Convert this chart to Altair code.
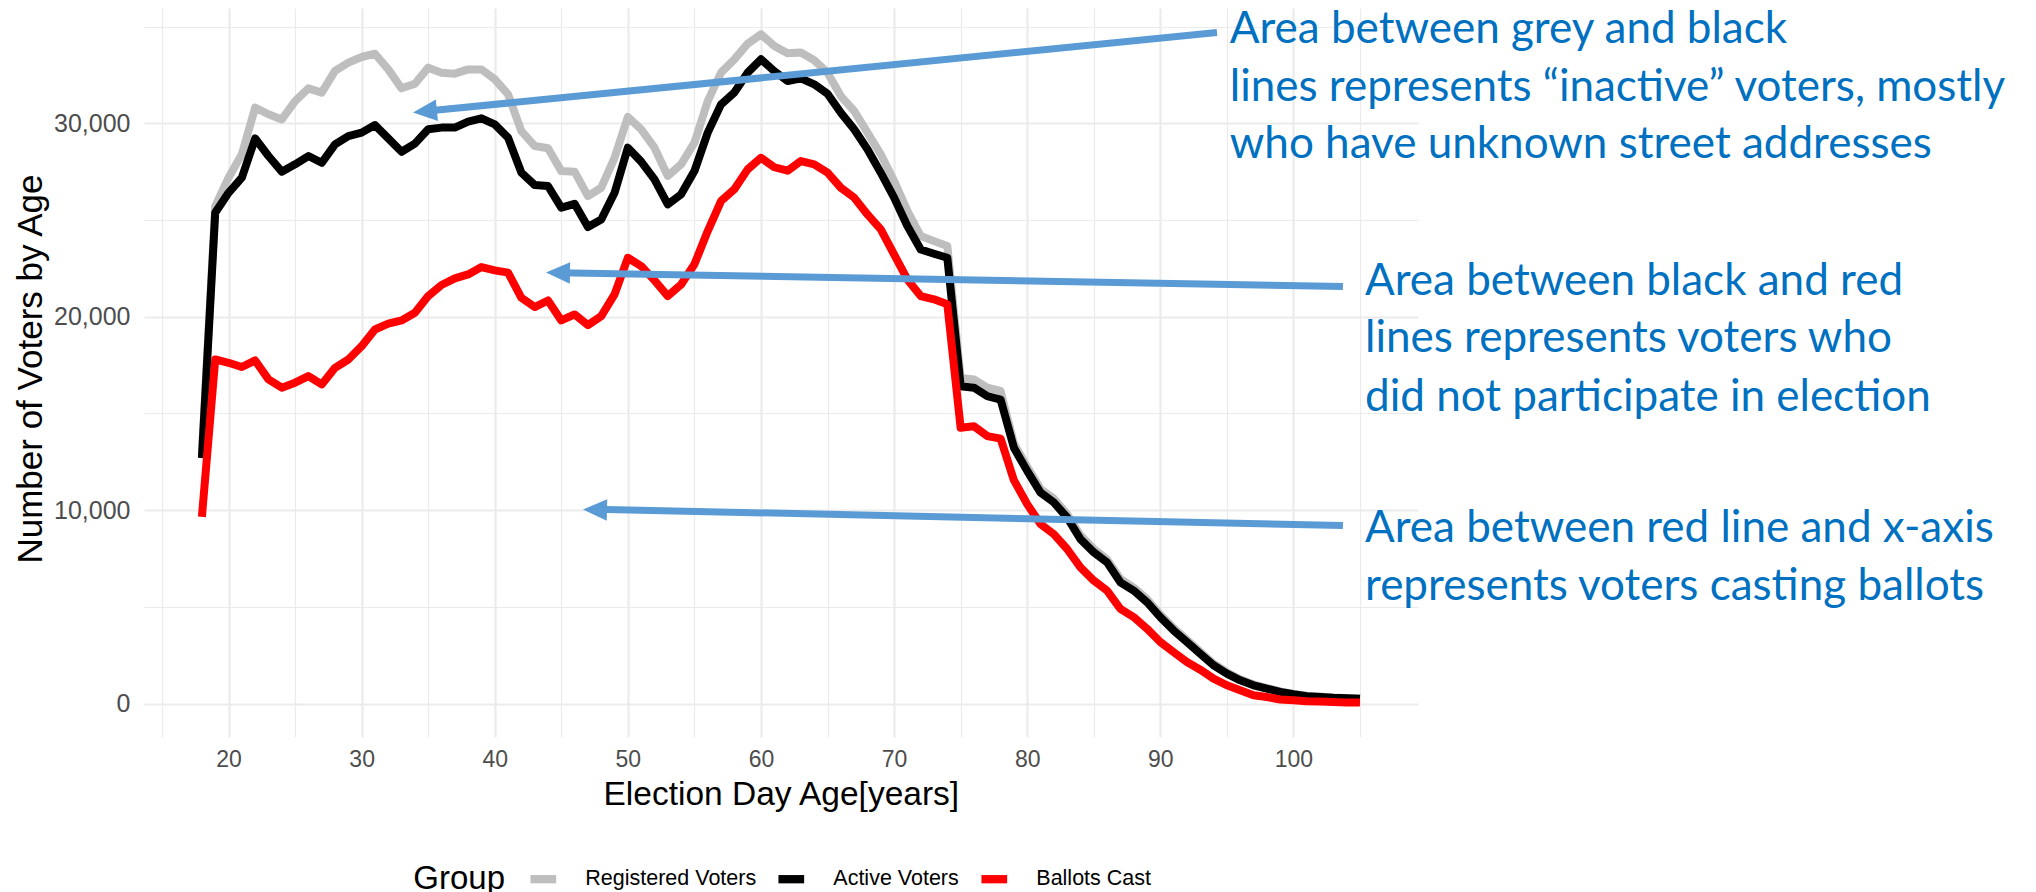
import altair as alt
import pandas as pd

# ---------------- data ----------------
ages = list(range(18, 106))

registered = [
    12900, 25720, 27190, 28400, 30810, 30470, 30200, 31150, 31810, 31590,
    32710, 33140, 33430, 33600, 32790, 31810, 32050, 32880, 32620, 32570,
    32790, 32790, 32280, 31500, 29600, 28830, 28710, 27530, 27500, 26240,
    26670, 28220, 30330, 29690, 28740, 27280, 27880, 29000, 31150, 32620,
    33310, 34120, 34600, 34000, 33620, 33660, 33260, 32620, 31410, 30640,
    29520, 28400, 27020, 25470, 24170, 23910, 23660, 16840, 16760, 16330,
    16160, 13450, 12250, 11100, 10600, 9800, 8700, 8000, 7450, 6450,
    6000, 5400, 4600, 3900, 3300, 2680, 2060, 1620, 1260, 990,
    800, 630, 500, 400, 360, 310, 290, 260,
]

active = [
    12700, 25380, 26410, 27190, 29220, 28310, 27500, 27880, 28310, 27960,
    28910, 29340, 29520, 29910, 29220, 28530, 28950, 29690, 29780, 29780,
    30090, 30260, 29950, 29260, 27450, 26810, 26760, 25640, 25840, 24640,
    25030, 26410, 28740, 28020, 27100, 25810, 26330, 27530, 29520, 30980,
    31590, 32620, 33310, 32700, 32190, 32330, 32020, 31530, 30550, 29690,
    28660, 27450, 26160, 24690, 23480, 23260, 23050, 16410, 16330, 15900,
    15720, 13230, 12030, 10910, 10400, 9620, 8500, 7820, 7300, 6270,
    5840, 5240, 4470, 3780, 3180, 2580, 1980, 1550, 1200, 945,
    770, 600, 480, 380, 340, 300, 280, 250,
]

ballots = [
    9650, 17790, 17620, 17400, 17740, 16760, 16330, 16590, 16930, 16500,
    17360, 17790, 18480, 19340, 19640, 19810, 20210, 21070, 21640, 21980,
    22190, 22570, 22400, 22280, 20980, 20500, 20840, 19810, 20120, 19570,
    20030, 21160, 23050, 22620, 21880, 21070, 21670, 22710, 24430, 25980,
    26590, 27620, 28220, 27730, 27550, 28050, 27880, 27450, 26670, 26160,
    25290, 24520, 23220, 21930, 21070, 20900, 20640, 14260, 14340, 13830,
    13700, 11550, 10310, 9280, 8760, 7990, 7040, 6360, 5840, 4900,
    4470, 3870, 3180, 2660, 2150, 1750, 1290, 945, 690, 430,
    340, 210, 170, 120, 100, 80, 60, 50,
]

groups = ["Registered Voters", "Active Voters", "Ballots Cast"]
group_colors = ["#BEBEBE", "#000000", "#FF0000"]

x_ticks = list(range(15, 106, 5))
y_ticks = list(range(0, 35001, 5000))

# annotation arrows (data coordinates)
arrow_tail_age = [94.26, 103.72, 103.72]
arrow_tail_voters = [34695, 21561, 9204]
arrow_back_age = [34.75, 44.75, 47.53]
arrow_back_voters = [30620, 22275, 10047]
arrow_tip_age = [33.86, 43.85, 46.63]
arrow_tip_voters = [30558, 22285, 10031]
arrow_angle = [354.3, 1.0, 1.2]

# annotation text lines (data coordinates)
note_lines = [
    "Area between grey and black",
    "lines represents \u201cinactive\u201d voters, mostly",
    "who have unknown street addresses",
    "Area between black and red",
    "lines represents voters who",
    "did not participate in election",
    "Area between red line and x-axis",
    "represents voters casting ballots",
]
note_age = [95.22, 95.22, 95.22, 105.38, 105.38, 105.38, 105.38, 105.38]
note_voters = [34142, 31179, 28232, 21148, 18164, 15150, 8340, 5362]

# ---------------- tables ----------------
rows = []
for g, vals in zip(groups, [registered, active, ballots]):
    for a, v in zip(ages, vals):
        rows.append({"age": a, "voters": v, "group": g})
df = pd.DataFrame(rows)

arrows = pd.DataFrame({
    "tail_age": arrow_tail_age, "tail_voters": arrow_tail_voters,
    "back_age": arrow_back_age, "back_voters": arrow_back_voters,
    "tip_age": arrow_tip_age, "tip_voters": arrow_tip_voters,
    "angle": arrow_angle,
})
notes = pd.DataFrame({"line": note_lines, "age": note_age, "voters": note_voters})

# ---------------- scales / axes ----------------
FONT = "Liberation Sans"
x_scale = alt.Scale(domain=[13.65, 109.36], nice=False, zero=False)
y_scale = alt.Scale(domain=[-1730, 35964], nice=False, zero=False)
color_scale = alt.Scale(domain=groups, range=group_colors)

x_axis = alt.Axis(
    title="Election Day Age[years]",
    values=x_ticks,
    labelExpr="(datum.value % 10 == 0 && datum.value >= 20 && datum.value <= 100) ? datum.value : ''",
    grid=True, gridColor="#EBEBEB",
    gridWidth={"condition": {"test": "datum.value % 10 == 0", "value": 2.2}, "value": 1.2},
    domain=False, ticks=False,
    labelFont=FONT, labelFontSize=23, labelColor="#4D4D4D", labelPadding=11,
    labelOverlap=False, labelFlush=False,
    titleFont=FONT, titleFontSize=33.5, titleColor="#000000", titleFontWeight="normal",
    titleX=636.8, titleY=67, titleAlign="center", titleBaseline="alphabetic",
)
y_axis = alt.Axis(
    title="Number of Voters by Age",
    values=y_ticks,
    labelExpr="datum.value % 10000 == 0 ? format(datum.value, ',') : ''",
    grid=True, gridColor="#EBEBEB",
    gridWidth={"condition": {"test": "datum.value % 10000 == 0", "value": 2.2}, "value": 1.2},
    domain=False, ticks=False,
    labelFont=FONT, labelFontSize=25, labelColor="#4D4D4D", labelPadding=14,
    labelOffset=0, labelOverlap=False, labelFlush=False,
    titleFont=FONT, titleFontSize=35, titleColor="#000000", titleFontWeight="normal",
    titleX=-102.3, titleY=360.5, titleAngle=270, titleAlign="center", titleBaseline="alphabetic",
)
legend = alt.Legend(
    title="Group", orient="none", legendX=269.3, legendY=854, direction="horizontal",
    padding=0, titleOrient="left", titleFont=FONT, titleFontSize=33,
    titleFontWeight="normal", titleColor="#000000", titlePadding=21,
    symbolType="stroke", symbolSize=660, symbolStrokeWidth=8.3,
    labelFont=FONT, labelFontSize=21.5, labelColor="#000000", labelLimit=400,
    labelOffset=25, columnPadding=5,
)

x_enc = alt.X("age:Q", scale=x_scale, axis=x_axis)
y_enc = alt.Y("voters:Q", scale=y_scale, axis=y_axis)
color_enc = alt.Color("group:N", scale=color_scale, legend=legend)

line_layers = [
    alt.Chart(df)
    .transform_filter(alt.FieldEqualPredicate(field="group", equal=g))
    .mark_line(strokeWidth=8, strokeJoin="round", strokeCap="butt")
    .encode(x=x_enc, y=y_enc, color=color_enc)
    for g in groups
]

arrow_lines = alt.Chart(arrows).mark_rule(color="#5B9BD5", strokeWidth=7, strokeCap="butt").encode(
    x=alt.X("tail_age:Q", scale=x_scale, axis=x_axis),
    x2="back_age:Q",
    y=alt.Y("tail_voters:Q", scale=y_scale, axis=y_axis),
    y2="back_voters:Q",
)
arrow_heads = alt.Chart(arrows).mark_point(
    shape="M0,0L2,-0.9L2,0.9Z", size=576, filled=True, color="#5B9BD5",
    opacity=1, strokeWidth=0,
).encode(
    x=alt.X("tip_age:Q", scale=x_scale, axis=x_axis),
    y=alt.Y("tip_voters:Q", scale=y_scale, axis=y_axis),
    angle=alt.Angle("angle:Q", scale=None),
)
note_text = alt.Chart(notes).mark_text(
    align="left", baseline="alphabetic", font="Lato", fontSize=44, color="#0070C0",
).encode(
    x=alt.X("age:Q", scale=x_scale, axis=x_axis),
    y=alt.Y("voters:Q", scale=y_scale, axis=y_axis),
    text="line:N",
)

chart = (
    alt.layer(*line_layers, arrow_lines, arrow_heads, note_text)
    .properties(
        width=1274, height=729,
        autosize=alt.AutoSizeParams(type="none"),
        padding={"left": 136, "top": 0, "right": 610, "bottom": 155},
        background="white",
    )
    .configure_view(stroke=None)
)

chart.save("out.html", embed_options={"renderer": "svg", "actions": False})
